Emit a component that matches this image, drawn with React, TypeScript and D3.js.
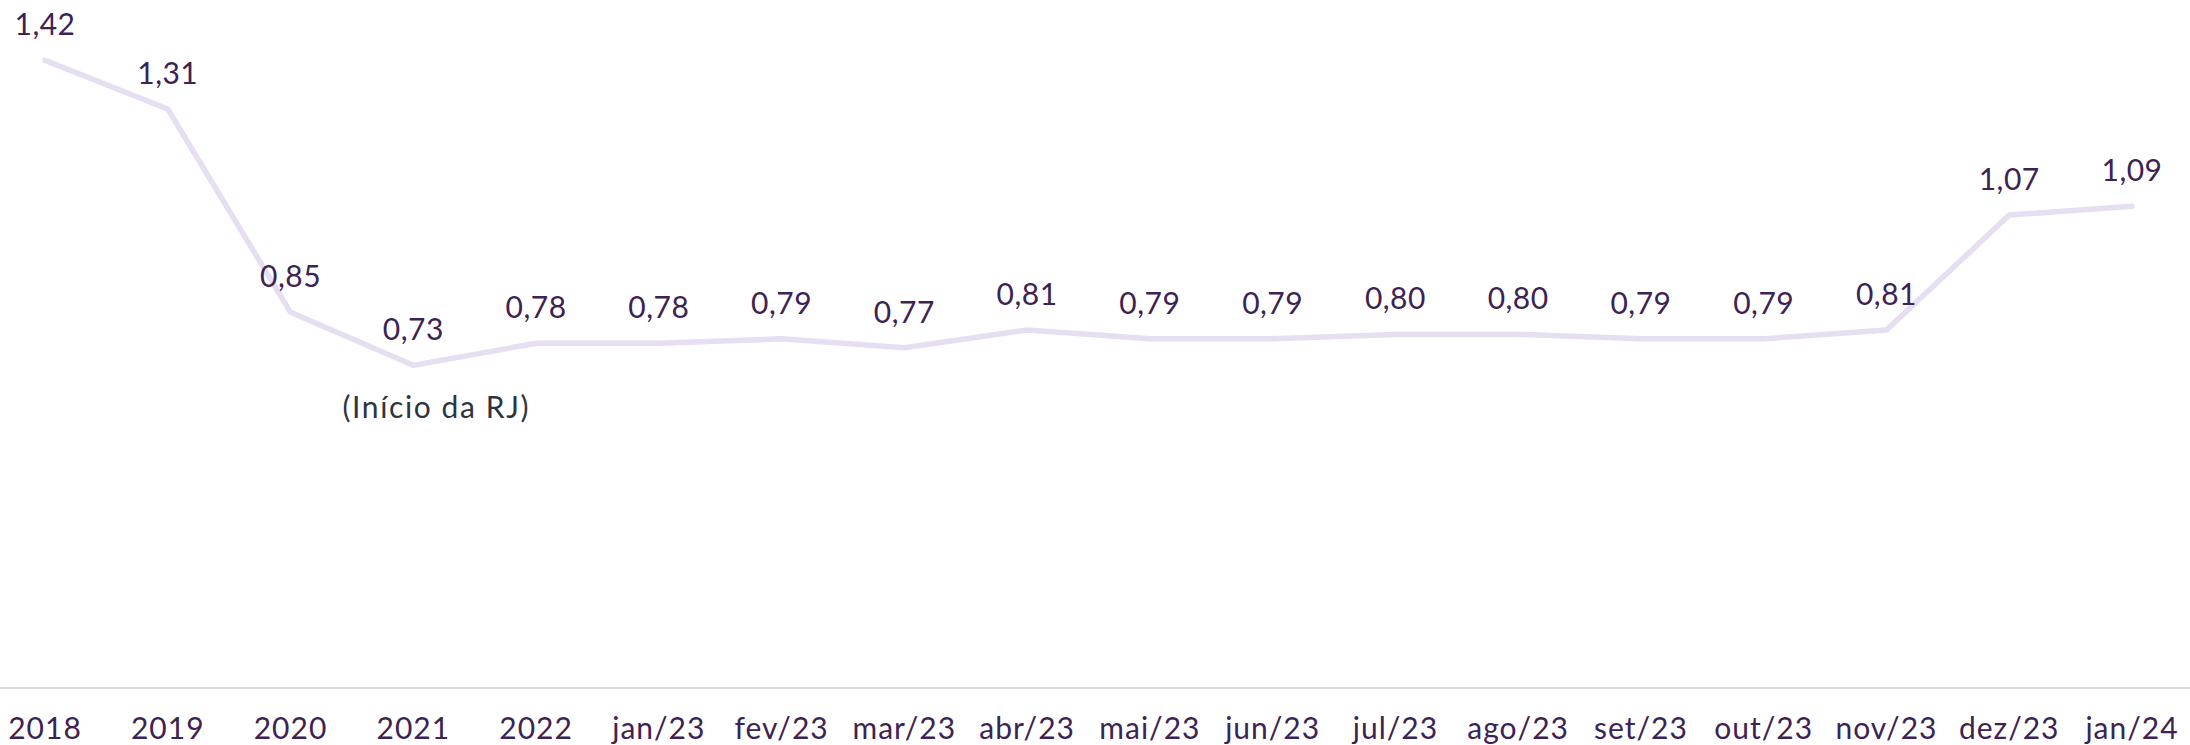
import React from "react";
import * as d3 from "d3";

const categories = ["2018", "2019", "2020", "2021", "2022", "jan/23", "fev/23", "mar/23", "abr/23", "mai/23", "jun/23", "jul/23", "ago/23", "set/23", "out/23", "nov/23", "dez/23", "jan/24"];
const values = [1.42, 1.31, 0.85, 0.73, 0.78, 0.78, 0.79, 0.77, 0.81, 0.79, 0.79, 0.80, 0.80, 0.79, 0.79, 0.81, 1.07, 1.09];
const annotationCategory = "2021";
const annotationText = "(Início da RJ)";

const W = 2190;
const H = 745;
const FONT = "Lato, 'Open Sans', sans-serif";

export default function App() {
  const x = d3.scalePoint<string>().domain(categories).range([45, 2132]);
  const y = d3.scaleLinear().domain([0, 1.5]).range([688, 25]);
  const line = d3
    .line<number>()
    .x((_, i) => x(categories[i]) as number)
    .y((d) => y(d));
  const fmt = (v: number) => v.toFixed(2).replace(".", ",");

  return (
    <svg
      width={W}
      height={H}
      viewBox={`0 0 ${W} ${H}`}
      style={{ position: "absolute", left: 0, top: 0, background: "#fff" }}
    >
      <line x1={0} x2={W} y1={y(0)} y2={y(0)} stroke="#d9d9d9" strokeWidth={2} />
      <path d={line(values) || ""} fill="none" stroke="#e6def1" strokeWidth={5.5} strokeLinecap="round" strokeLinejoin="round" />
      {values.map((v, i) => (
        <text
          key={"l" + i}
          x={x(categories[i])}
          y={y(v) - 25}
          textAnchor="middle"
          fontFamily={FONT}
          fontSize={30}
          letterSpacing={0.5}
          fill="#3d2353"
        >
          {fmt(v)}
        </text>
      ))}
      {categories.map((c) => (
        <text
          key={"t" + c}
          x={x(c)}
          y={739}
          textAnchor="middle"
          fontFamily={FONT}
          fontSize={30}
          letterSpacing={1}
          fill="#3d2353"
        >
          {c}
        </text>
      ))}
      <text
        x={(x(annotationCategory) as number) + 23}
        y={418}
        textAnchor="middle"
        fontFamily={FONT}
        fontSize={30}
        letterSpacing={1.6}
        fill="#2d3440"
      >
        {annotationText}
      </text>
    </svg>
  );
}
